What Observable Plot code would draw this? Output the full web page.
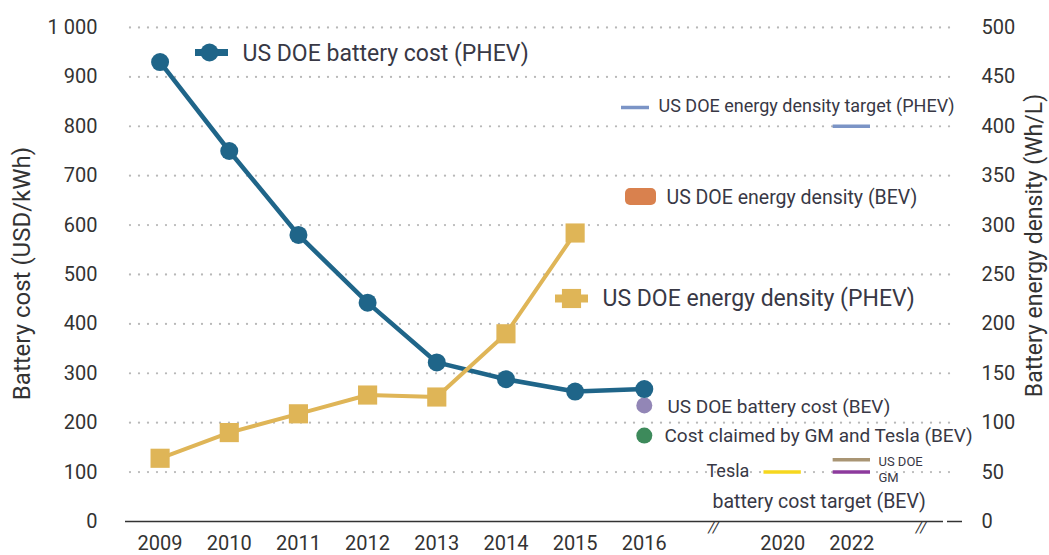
<!DOCTYPE html>
<html><head><meta charset="utf-8">
<script src="https://cdn.jsdelivr.net/npm/d3@7"></script>
<script src="https://cdn.jsdelivr.net/npm/@observablehq/plot@0.6"></script>
<style>html,body{margin:0;padding:0;background:#fff;}</style>
</head><body><div id="chart"></div>
<script>
// ---------- data ----------
const xTickLabels = ["2009","2010","2011","2012","2013","2014","2015","2016","2020","2022"];
const xTickSlots  = [0,1,2,3,4,5,6,7,9,10];
const breakSlots  = [8, 11];
const costYears   = ["2009","2010","2011","2012","2013","2014","2015","2016"];
const costPHEV    = [930,750,580,443,322,288,263,268];          // USD/kWh
const densityYears = ["2009","2010","2011","2012","2013","2014","2015"];
const densityPHEV = [64,90,109,128,126,190,292];                 // Wh/L
const costBEVYear = "2016";
const costBEV     = 235;   // US DOE battery cost (BEV)
const costGMTesla = 174;   // Cost claimed by GM and Tesla (BEV)
const densityTargetYear = "2022";
const densityTargetPHEV = 400;  // Wh/L
const targetNames  = ["Tesla","US DOE","GM"];
const targetYears  = ["2020","2022","2022"];
const targetValues = [100,125,100];
const leftTicks  = [0,100,200,300,400,500,600,700,800,900,1000];
const rightTicks = [0,50,100,150,200,250,300,350,400,450,500];

// ---------- helpers ----------
const slot = y => xTickSlots[xTickLabels.indexOf(y)];
const W = 1049, H = 555, ML = 125, MR = 87, MT = 27, MB = 34;
const xDom = [-0.5, 11.6], yDom = [0, 1000];
const pxX = px => xDom[0] + (px - ML) / (W - MR - ML) * (xDom[1] - xDom[0]);
const pxY = py => yDom[0] + (H - MB - py) / (H - MB - MT) * (yDom[1] - yDom[0]);
const RATIO = 2; // right axis (Wh/L) -> left axis units

const costData = costYears.map((y,i) => ({x: slot(y), v: costPHEV[i]}));
const densData = densityYears.map((y,i) => ({x: slot(y), v: densityPHEV[i] * RATIO}));
const targets = targetNames.map((n,i) => ({name: n, x: slot(targetYears[i]), v: targetValues[i]}));
const targetColors = {"Tesla": "#f6d71e", "US DOE": "#a99574", "GM": "#8d3a9d"};

const BLUE = "#1f6589", GOLD = "#dfb557", TXT = "#383845";
const half = 0.27;

const plot = Plot.plot({
  width: W, height: H,
  marginLeft: ML, marginRight: MR, marginTop: MT, marginBottom: MB,
  style: {fontFamily: "Roboto, sans-serif", fontSize: "20px", color: "#333", background: "#fff"},
  x: {domain: xDom, ticks: xTickSlots, tickFormat: i => xTickLabels[xTickSlots.indexOf(i)], tickSize: 0, tickPadding: 14, label: null},
  y: {domain: yDom, ticks: leftTicks, tickFormat: d => d === 1000 ? "1 000" : String(d), tickSize: 0, tickPadding: 28, label: null},
  marks: [
    // dotted grid
    Plot.ruleY(leftTicks.filter(d => d > 0), {x1: pxX(130), x2: pxX(958), stroke: "#b8b8b8", strokeWidth: 2.3, strokeDasharray: "0 9", strokeLinecap: "round"}),
    // baseline with break
    Plot.ruleY([0], {x1: xDom[0], x2: pxX(943), stroke: "#333", strokeWidth: 1.5}),
    Plot.ruleY([0], {x1: pxX(947), x2: xDom[1], stroke: "#333", strokeWidth: 1.5}),
    Plot.text(breakSlots, {x: d => d, y: 0, text: () => "//", dy: 7, fontSize: 15, fill: "#333", fontStyle: "italic"}),
    // right axis
    Plot.text(rightTicks, {x: xDom[1], y: d => d * RATIO, text: d => String(d), textAnchor: "start", dx: 19, fill: "#333"}),
    // axis titles
    Plot.text(["Battery cost (USD/kWh)"], {x: xDom[0], y: pxY(273), text: d => d, rotate: -90, dx: -103, fontSize: 24, fill: "#333"}),
    Plot.text(["Battery energy density (Wh/L)"], {x: xDom[1], y: pxY(245), text: d => d, rotate: -90, dx: 72, fontSize: 23, fill: "#333"}),
    // targets
    Plot.ruleY([densityTargetPHEV * RATIO], {x1: slot(densityTargetYear) - half, x2: slot(densityTargetYear) + half, stroke: "#7b94c6", strokeWidth: 3.5}),
    Plot.ruleY(targets, {y: "v", x1: d => d.x - half, x2: d => d.x + half, stroke: d => targetColors[d.name], strokeWidth: 3.5}),
    // BEV cost points
    Plot.dot([costBEV], {x: slot(costBEVYear), y: d => d, r: 8, fill: "#9286b6"}),
    Plot.dot([costGMTesla], {x: slot(costBEVYear), y: d => d, r: 8, fill: "#3d8a5b"}),
    // PHEV cost
    Plot.line(costData, {x: "x", y: "v", stroke: BLUE, strokeWidth: 4.5}),
    Plot.dot(costData, {x: "x", y: "v", r: 9, fill: BLUE}),
    // PHEV density
    Plot.line(densData, {x: "x", y: "v", stroke: GOLD, strokeWidth: 4}),
    Plot.dot(densData, {x: "x", y: "v", r: 10.8, symbol: "square", fill: GOLD}),
    // legends
    Plot.ruleY([pxY(52)], {x1: pxX(195), x2: pxX(228), stroke: BLUE, strokeWidth: 7}),
    Plot.dot([0], {x: pxX(209), y: pxY(52), r: 9, fill: BLUE}),
    Plot.text(["US DOE battery cost (PHEV)"], {x: pxX(242), y: pxY(53), text: d => d, textAnchor: "start", fontSize: 23, fill: TXT}),
    Plot.ruleY([pxY(298)], {x1: pxX(555), x2: pxX(588), stroke: GOLD, strokeWidth: 8}),
    Plot.dot([0], {x: pxX(571), y: pxY(298), r: 10.8, symbol: "square", fill: GOLD}),
    Plot.text(["US DOE energy density (PHEV)"], {x: pxX(602), y: pxY(298), text: d => d, textAnchor: "start", fontSize: 23, fill: TXT}),
    Plot.ruleY([pxY(107)], {x1: pxX(621), x2: pxX(649), stroke: "#7b94c6", strokeWidth: 3.5}),
    Plot.text(["US DOE energy density target (PHEV)"], {x: pxX(658), y: pxY(106), text: d => d, textAnchor: "start", fontSize: 18, fill: TXT}),
    Plot.rect([0], {x1: pxX(625), x2: pxX(656), y1: pxY(205), y2: pxY(188), fill: "#d9814e", rx: 5}),
    Plot.text(["US DOE energy density (BEV)"], {x: pxX(666), y: pxY(197), text: d => d, textAnchor: "start", fontSize: 19.5, fill: TXT}),
    Plot.text(["US DOE battery cost (BEV)"], {x: pxX(667), y: pxY(406), text: d => d, textAnchor: "start", fontSize: 19, fill: TXT}),
    Plot.text(["Cost claimed by GM and Tesla (BEV)"], {x: pxX(664), y: pxY(435), text: d => d, textAnchor: "start", fontSize: 19, fill: TXT}),
    Plot.text(["Tesla"], {x: pxX(706), y: pxY(471), text: d => d, textAnchor: "start", fontSize: 18, fill: TXT}),
    Plot.text(["US DOE"], {x: pxX(878), y: pxY(461), text: d => d, textAnchor: "start", fontSize: 13, fill: TXT}),
    Plot.text(["GM"], {x: pxX(878), y: pxY(477), text: d => d, textAnchor: "start", fontSize: 13, fill: TXT}),
    Plot.text(["battery cost target (BEV)"], {x: pxX(712), y: pxY(501), text: d => d, textAnchor: "start", fontSize: 19.5, fill: TXT})
  ]
});
document.getElementById("chart").appendChild(plot);
</script>
</body></html>
